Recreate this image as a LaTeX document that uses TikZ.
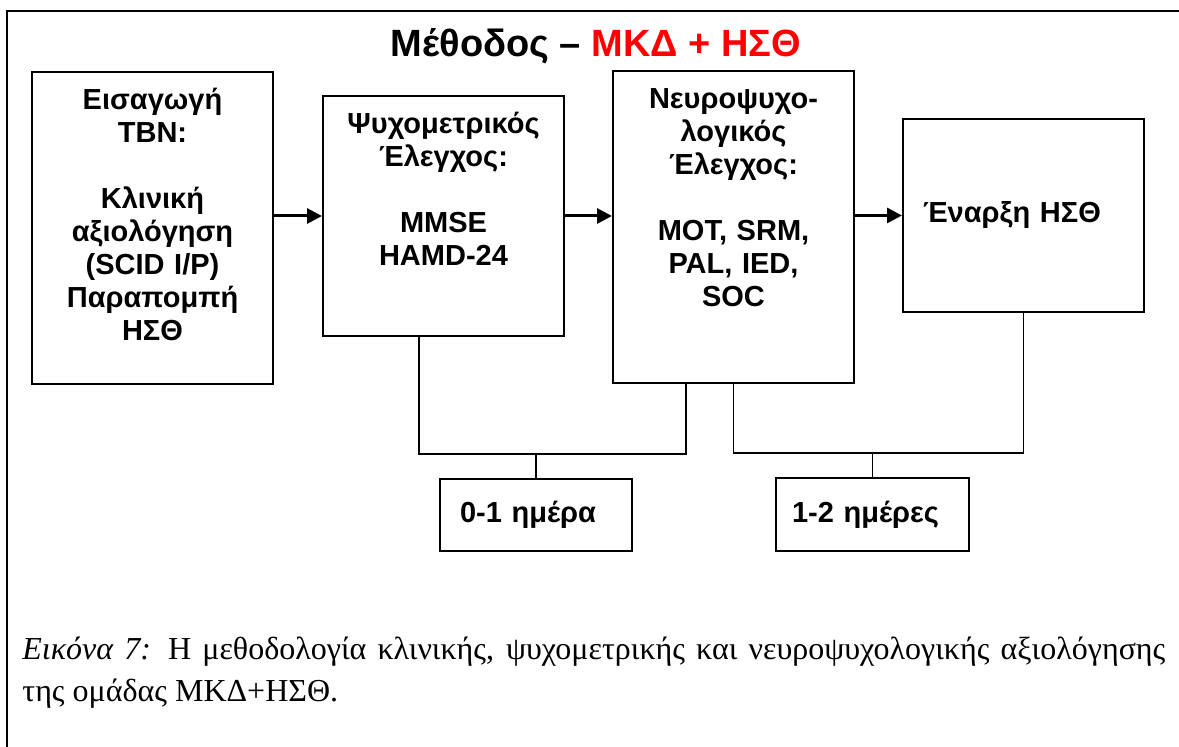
\documentclass[tikz,border=0pt]{standalone}
\usepackage{fontspec}
\setmainfont{Liberation Serif}
\setsansfont{Liberation Sans}
\usetikzlibrary{arrows.meta,positioning}
\hyphenpenalty=10000

\begin{document}
\begin{tikzpicture}[
  x=0.5pt, y=-0.5pt,
  stage/.style={draw, line width=1pt, inner xsep=3pt, inner ysep=0pt, text width=114.5pt, align=center, text height=19pt, font=\sffamily\bfseries\fontsize{14.5}{16.5}\selectfont},
  tag/.style={draw, line width=1pt, inner xsep=10pt, align=left, font=\sffamily\bfseries\fontsize{14.5}{16.5}\selectfont},
  arrow/.style={-{Triangle[length=7.5pt,width=7.5pt]}, line width=1.5pt},
  link/.style={line width=0.7pt}
]
\useasboundingbox (0,0) rectangle (1179,747);
\draw[line width=1.2pt] (7,11) rectangle (1200,770);

\node[font=\sffamily\bfseries\fontsize{19}{23}\selectfont, anchor=base] (title) at (596,57) {Μέθοδος – \textcolor{red}{ΜΚΔ + ΗΣΘ}};

\node[stage, text depth=137pt, anchor=north west] (intro) at (31,71) {Εισαγωγή\\ TBN:\\[16.5pt] Κλινική\\ αξιολόγηση\\ (SCID I/P)\\ Παραπομπή\\ ΗΣΘ};
\node[stage, text depth=101pt, right=24pt of intro, yshift=6pt] (psy) {Ψυχομετρικός\\ Έλεγχος:\\[16.5pt] MMSE\\ HAMD-24};
\node[stage, text depth=137pt, right=23.5pt of psy, yshift=-5.5pt] (neuro) {Νευροψυχο-\\ λογικός\\ Έλεγχος:\\[16.5pt] MOT, SRM,\\ PAL, IED,\\ SOC};
\node[tag, text width=100.5pt, minimum height=96.5pt, right=23.5pt of neuro, yshift=5.75pt] (ect) {Έναρξη ΗΣΘ};

\node[tag, text width=76pt, minimum height=36pt] (day1) at (536,515) {0-1 ημέρα};
\node[tag, text width=80.5pt, minimum height=36.5pt, inner xsep=8pt] (day2) at (872.5,514.5) {1-2 ημέρες};

\draw[arrow] (intro.east |- psy) -- (psy);
\draw[arrow] (psy) -- (neuro.west |- psy);
\draw[arrow] (neuro.east |- ect) -- (ect);

\coordinate (bar1) at ([yshift=12pt]day1.north);
\coordinate (bar2) at ([yshift=12pt]day2.north);
\draw[link] ([xshift=-12.25pt]psy.south) |- (bar1) -| ([xshift=-23.75pt]neuro.south);
\draw[link] (bar1) -- (day1);
\draw[link] (neuro.south) |- (bar2) -| (ect.south);
\draw[link] (bar2) -- (day2);

\node[anchor=base west, text width=571.5pt, align=justify, inner sep=0pt, font=\fontsize{16}{21}\selectfont] (caption) at (22,660) {{\itshape Εικόνα 7:} Η μεθοδολογία κλινικής, ψυχομετρικής και νευροψυχολογικής αξιολόγησης\linebreak της ομάδας ΜΚΔ+ΗΣΘ.};
\end{tikzpicture}
\end{document}
